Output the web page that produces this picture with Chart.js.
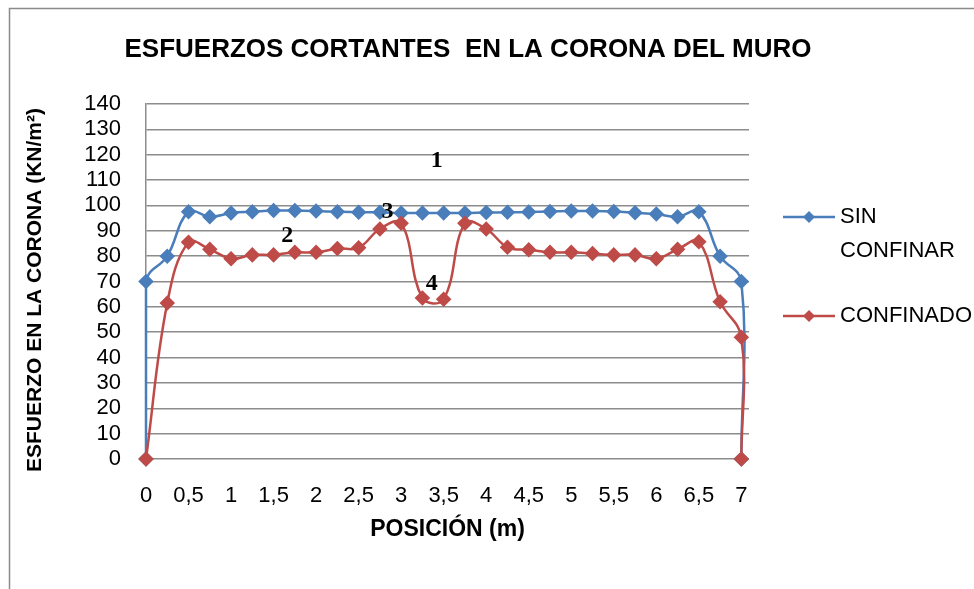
<!DOCTYPE html>
<html>
<head>
<meta charset="utf-8">
<script src="https://cdn.jsdelivr.net/npm/chart.js@4.4.1/dist/chart.umd.min.js"></script>
<style>
  html, body { margin: 0; padding: 0; background: #fff; }
  #wrap { width: 974px; height: 589px; }
</style>
</head>
<body>
<div id="wrap"><canvas id="myChart" width="974" height="589"></canvas></div>
<script>
// posiciones (m) y esfuerzos (KN/m2)
const posSin = [0, 0, 0.25, 0.5, 0.75, 1, 1.25, 1.5, 1.75, 2, 2.25, 2.5, 2.75, 3, 3.25, 3.5,
  3.75, 4, 4.25, 4.5, 4.75, 5, 5.25, 5.5, 5.75, 6, 6.25, 6.5, 6.75, 7, 7];
const sinConfinar = [0, 70, 80, 97.5, 95.5, 97, 97.5, 98, 98, 97.8, 97.5, 97.3, 97.3, 97, 97, 97,
  97, 97.2, 97.3, 97.4, 97.6, 97.8, 97.8, 97.6, 97.1, 96.6, 95.5, 97.5, 80, 70, 0];

const posConf = [0, 0.25, 0.5, 0.75, 1, 1.25, 1.5, 1.75, 2, 2.25, 2.5, 2.75, 3, 3.25, 3.5,
  3.75, 4, 4.25, 4.5, 4.75, 5, 5.25, 5.5, 5.75, 6, 6.25, 6.5, 6.75, 7, 7];
const confinado = [0, 61.5, 85.5, 82.7, 79, 80.5, 80.5, 81.5, 81.5, 83, 83.3, 90.7, 93, 63.5, 63,
  93, 90.7, 83.5, 82.5, 81.5, 81.5, 81, 80.5, 80.5, 79, 82.7, 85.7, 62, 48, 0];

const xTicks = [0, 0.5, 1, 1.5, 2, 2.5, 3, 3.5, 4, 4.5, 5, 5.5, 6, 6.5, 7];

// etiquetas numeradas dentro del grafico
const notas = [
  { t: '1', x: 3.42, y: 117.5 },
  { t: '2', x: 1.66, y: 88 },
  { t: '3', x: 2.84, y: 97.4 },
  { t: '4', x: 3.36, y: 69 }
];

const titulo = 'ESFUERZOS CORTANTES  EN LA CORONA DEL MURO';
const tituloY = 'ESFUERZO EN LA CORONA (KN/m²)';
const azul = '#4a7ebb';
const rojo = '#be4b48';
const fuente = '"Liberation Sans", Arial, sans-serif';

const marco = {
  id: 'marco',
  beforeDraw(chart) {
    const c = chart.ctx;
    c.save();
    c.fillStyle = '#fff';
    c.fillRect(0, 0, chart.width, chart.height);
    c.strokeStyle = '#8a8a8a';
    c.lineWidth = 1.5;
    c.strokeRect(9.5, 8.5, 1200, 1200);
    c.fillStyle = '#000';
    c.font = 'bold 26px ' + fuente;
    c.textAlign = 'center';
    c.textBaseline = 'middle';
    c.fillText(titulo, 468, 50);
    // titulo del eje y
    c.translate(35, 290);
    c.rotate(-Math.PI / 2);
    c.font = 'bold 21px ' + fuente;
    c.fillText(tituloY, 0, 0);
    c.restore();
  },
  afterDatasetsDraw(chart) {
    const c = chart.ctx;
    const xs = chart.scales.x, ys = chart.scales.y;
    c.save();
    c.fillStyle = '#000';
    c.font = 'bold 24px "Liberation Serif", serif';
    c.textAlign = 'center';
    c.textBaseline = 'middle';
    notas.forEach(n => c.fillText(n.t, xs.getPixelForValue(n.x), ys.getPixelForValue(n.y)));
    c.restore();
  },
  afterDraw(chart) {
    const c = chart.ctx;
    const items = [
      { lines: ['SIN', 'CONFINAR'], color: azul, y: 217 },
      { lines: ['CONFINADO'], color: rojo, y: 316 }
    ];
    c.save();
    c.font = '22px ' + fuente;
    c.textBaseline = 'middle';
    items.forEach(it => {
      c.strokeStyle = it.color;
      c.lineWidth = 2.5;
      c.beginPath();
      c.moveTo(783, it.y);
      c.lineTo(835, it.y);
      c.stroke();
      c.fillStyle = it.color;
      c.beginPath();
      c.moveTo(809, it.y - 6);
      c.lineTo(815, it.y);
      c.lineTo(809, it.y + 6);
      c.lineTo(803, it.y);
      c.closePath();
      c.fill();
      c.fillStyle = '#000';
      it.lines.forEach((l, i) => c.fillText(l, 840, it.y + i * 34));
    });
    c.restore();
  }
};

const ctx = document.getElementById('myChart').getContext('2d');
new Chart(ctx, {
  type: 'scatter',
  data: {
    datasets: [{
      label: 'SIN CONFINAR',
      data: posSin.map((x, i) => ({ x: x, y: sinConfinar[i] })),
      showLine: true,
      borderColor: azul,
      backgroundColor: azul,
      borderWidth: 2.5,
      pointStyle: 'rectRot',
      pointRadius: 6,
      pointHoverRadius: 6,
      tension: 0.4,
      clip: false,
      order: 1
    }, {
      label: 'CONFINADO',
      data: posConf.map((x, i) => ({ x: x, y: confinado[i] })),
      showLine: true,
      borderColor: rojo,
      backgroundColor: rojo,
      borderWidth: 2.5,
      pointStyle: 'rectRot',
      pointRadius: 6,
      pointHoverRadius: 6,
      tension: 0.4,
      clip: false,
      order: 0
    }]
  },
  options: {
    responsive: false,
    animation: false,
    layout: { padding: { left: 10, right: 225, top: 104, bottom: 40 } },
    plugins: {
      legend: { display: false },
      tooltip: { enabled: false },
      title: { display: false }
    },
    scales: {
      x: {
        type: 'linear',
        min: 0,
        max: 7.09,
        afterBuildTicks(scale) { scale.ticks = xTicks.map(v => ({ value: v })); },
        afterFit(scale) { scale.height = 90; },
        grid: { display: false, drawTicks: false },
        border: { display: false },
        ticks: {
          padding: 24,
          color: '#000',
          font: { family: fuente, size: 22 },
          maxRotation: 0,
          autoSkip: false,
          callback: v => String(v).replace('.', ',')
        },
        title: {
          display: true,
          text: 'POSICIÓN (m)',
          color: '#000',
          font: { family: fuente, size: 23, weight: 'bold' },
          padding: { top: 0, bottom: 6 }
        }
      },
      y: {
        min: 0,
        max: 140,
        afterFit(scale) { scale.width = 136; },
        grid: { color: '#8c8c8c', lineWidth: 1.5, drawTicks: false },
        border: { display: true, color: '#8c8c8c', width: 1.5 },
        ticks: {
          stepSize: 10,
          autoSkip: false,
          padding: 25,
          color: '#000',
          font: { family: fuente, size: 22 }
        },
        title: { display: false }
      }
    }
  },
  plugins: [marco]
});
</script>
</body>
</html>
